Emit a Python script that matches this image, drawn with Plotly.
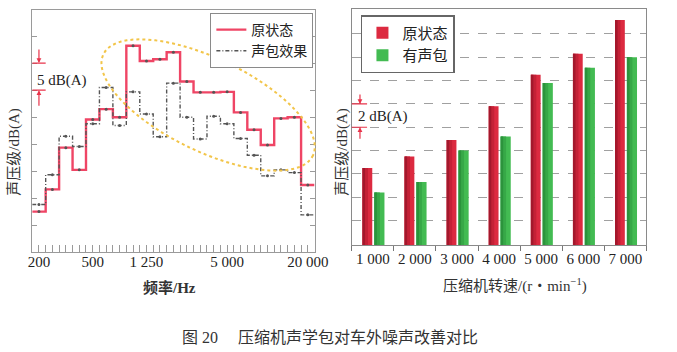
import math
import plotly.graph_objects as go

# ---------------- data ----------------
bands = ["200", "250", "315", "400", "500", "630", "800", "1 000", "1 250", "1 600",
         "2 000", "2 500", "3 150", "4 000", "5 000", "6 300", "8 000", "10 000",
         "12 500", "16 000", "20 000"]
orig_spl = [47.6, 51.7, 59.4, 55.3, 64.6, 66.5, 65.0, 78.2, 75.4, 75.7, 77.0,
            71.6, 69.6, 69.6, 69.7, 65.9, 62.7, 59.9, 64.8, 65.0, 52.5]
pkg_spl = [48.9, 54.4, 61.5, 59.6, 63.8, 70.5, 63.5, 69.7, 65.6, 61.4, 71.3,
           65.0, 61.0, 65.2, 63.8, 61.1, 58.0, 54.2, 55.3, 54.8, 47.0]
freq_ticks = ["200", "500", "1 250", "5 000", "20 000"]

speeds = ["1 000", "2 000", "3 000", "4 000", "5 000", "6 000", "7 000"]
orig_speed = [66.5, 67.5, 68.9, 71.8, 74.5, 76.3, 79.2]
pkg_speed = [64.4, 65.3, 68.0, 69.2, 73.8, 75.1, 76.0]

W, H = 677, 352
SERIF = "Liberation Serif, Times New Roman, Noto Sans CJK SC, serif"
RED_LINE = "#ef4565"
FRAME = "#9a9a9a"

def px(x):
    return x / W

def py(y):
    return 1 - y / H

n = len(bands)
idx = list(range(n))
edges = [i - 0.5 for i in idx] + [n - 0.5]

fig = go.Figure()

# ---------------- left: spectrum steps ----------------
fig.add_trace(go.Scatter(
    x=edges, y=orig_spl + [orig_spl[-1]], mode="lines", line_shape="hv",
    line=dict(color=RED_LINE, width=2.4), name="原状态",
    xaxis="x", yaxis="y", legend="legend"))
fig.add_trace(go.Scatter(
    x=edges, y=pkg_spl + [pkg_spl[-1]], mode="lines", line_shape="hv",
    line=dict(color="#555555", width=1.4, dash="4px,2px,1px,2px"), name="声包效果",
    xaxis="x", yaxis="y", legend="legend"))
for vals in (orig_spl, pkg_spl):
    fig.add_trace(go.Scatter(
        x=idx, y=vals, mode="markers", marker=dict(size=3, color="#555555"),
        showlegend=False, hoverinfo="skip", xaxis="x", yaxis="y"))

# ---------------- right: bars with stepped shading ----------------
# (offset, width, colour) strips: base bar first, darker left strips on top
red_strips = [(-0.246, 0.232, "#dc2a40"), (-0.246, 0.13, "#c42136"), (-0.246, 0.06, "#a3182c")]
green_strips = [(0.036, 0.240, "#43bb52"), (0.036, 0.13, "#37a847"), (0.036, 0.06, "#2c933c")]
for k, (off, wd, col) in enumerate(red_strips):
    fig.add_trace(go.Bar(x=speeds, y=orig_speed, name="原状态", offset=off, width=wd,
                         marker=dict(color=col, line_width=0), showlegend=(k == 0),
                         xaxis="x2", yaxis="y2", legend="legend2"))
for k, (off, wd, col) in enumerate(green_strips):
    fig.add_trace(go.Bar(x=speeds, y=pkg_speed, name="有声包", offset=off, width=wd,
                         marker=dict(color=col, line_width=0), showlegend=(k == 0),
                         xaxis="x2", yaxis="y2", legend="legend2"))

# ticks for left x axis: every half band, labels only on selected bands
half_ticks = [k * 0.5 for k in range(-1, 2 * n)]
half_text = []
for t in half_ticks:
    if float(t).is_integer() and 0 <= int(t) < n and bands[int(t)] in freq_ticks:
        half_text.append(bands[int(t)])
    else:
        half_text.append("")

shapes = []
annotations = []

# highlight ellipse (pixel geometry -> paper)
cx, cy, ea, eb, th = 209.7, 105.0, 119.0, 46.6, math.radians(25)
pts = []
for k in range(73):
    t = 2 * math.pi * k / 72
    x = cx + ea * math.cos(t) * math.cos(th) - eb * math.sin(t) * math.sin(th)
    y = cy + ea * math.cos(t) * math.sin(th) + eb * math.sin(t) * math.cos(th)
    pts.append(f"{px(x):.5f},{py(y):.5f}")
shapes.append(dict(type="path", xref="paper", yref="paper",
                   path="M " + " L ".join(pts) + " Z",
                   line=dict(color="#f2c54a", width=2, dash="dot")))

RED_MARK = "#e8334a"
# 5 dB(A) scale marker (left)
for yv in (75, 70):
    shapes.append(dict(type="line", xref="x", yref="y", x0=-0.5, x1=0.5, y0=yv, y1=yv,
                       line=dict(color=RED_MARK, width=1.2)))
annotations.append(dict(x=0.0, y=75, xref="x", yref="y", text="", showarrow=True,
                        ax=0, ay=-15, arrowhead=2, arrowsize=0.8, arrowwidth=1.2,
                        arrowcolor=RED_MARK))
annotations.append(dict(x=0.0, y=70, xref="x", yref="y", text="", showarrow=True,
                        ax=0, ay=17, arrowhead=2, arrowsize=0.8, arrowwidth=1.2,
                        arrowcolor=RED_MARK))
annotations.append(dict(x=-0.28, y=71.7, xref="x", yref="y", text="5 dB(A)", showarrow=False,
                        xanchor="left", yanchor="middle",
                        font=dict(family=SERIF, size=15, color="#222222")))

# 2 dB(A) scale marker (right)
for yv in (72, 70):
    shapes.append(dict(type="line", xref="paper", yref="y2", x0=px(357.3), x1=px(373),
                       y0=yv, y1=yv, line=dict(color=RED_MARK, width=1.2)))
annotations.append(dict(x=px(365.7), y=72, xref="paper", yref="y2", text="", showarrow=True,
                        ax=0, ay=-11, arrowhead=2, arrowsize=0.8, arrowwidth=1.2,
                        arrowcolor=RED_MARK))
annotations.append(dict(x=px(365.7), y=70, xref="paper", yref="y2", text="", showarrow=True,
                        ax=0, ay=13, arrowhead=2, arrowsize=0.8, arrowwidth=1.2,
                        arrowcolor=RED_MARK))
annotations.append(dict(x=px(361.5), y=70.95, xref="paper", yref="y2", text="2 dB(A)",
                        showarrow=False, xanchor="left", yanchor="middle",
                        font=dict(family=SERIF, size=15, color="#222222")))

# axis titles and caption
def label(x, y, text, size=15, angle=0):
    annotations.append(dict(x=px(x), y=py(y), xref="paper", yref="paper", text=text,
                            textangle=angle, showarrow=False, xanchor="center",
                            yanchor="middle",
                            font=dict(family=SERIF, size=size, color="#333333")))

label(10, 152, "声压级/dB(A)", angle=-90)
label(347, 152, "声压级/dB(A)", angle=-90)
label(170, 287, "<b>频率/Hz</b>")
label(525, 285, "压缩机转速/(r・min<sup>−1</sup>)")
label(335, 337, "图 20　 压缩机声学包对车外噪声改善对比", size=16)

fig.update_layout(
    width=W, height=H, margin=dict(l=0, r=0, t=0, b=0),
    paper_bgcolor="white", plot_bgcolor="white",
    font=dict(family=SERIF, size=15, color="#222222"),
    barmode="overlay",
    xaxis=dict(domain=[px(29), px(319)], range=[-0.5, n - 0.5], tickmode="array",
               tickvals=half_ticks, ticktext=half_text, ticks="inside", ticklen=7,
               tickcolor=FRAME, showline=True, linecolor=FRAME, mirror=True,
               showgrid=False, zeroline=False, tickangle=0, ticklabelstandoff=-4,
               tickfont=dict(size=15, color="#222222")),
    yaxis=dict(domain=[py(251.7), py(10)], range=[40.2, 84.8], tickmode="array",
               tickvals=[45, 50, 55, 60, 65, 70, 75, 80], showticklabels=False,
               ticks="inside", ticklen=5, tickcolor=FRAME, showline=True, linecolor=FRAME,
               mirror="ticks", showgrid=False, zeroline=False),
    xaxis2=dict(domain=[px(357.3), px(660)], type="category", range=[-0.5, 6.5],
                tickson="boundaries", ticks="outside", ticklen=5, tickcolor="#777777",
                showline=True, linecolor="#8a8a8a", mirror=True, showgrid=False,
                tickangle=0, tickfont=dict(size=15, color="#222222"), anchor="y2"),
    yaxis2=dict(domain=[py(245), py(9.3)], range=[59.91, 80.11], tickmode="array",
                tickvals=[62, 64, 66, 68, 70, 72, 74, 76, 78], showticklabels=False,
                ticks="", showgrid=True, gridcolor="#a0a0a0", griddash="dash", gridwidth=1,
                showline=True, linecolor="#8a8a8a", mirror=True, zeroline=False,
                anchor="x2"),
    legend=dict(x=px(212), y=py(13), xanchor="left", yanchor="top",
                bgcolor="white", bordercolor="#8a8a8a", borderwidth=1,
                font=dict(family=SERIF, size=14, color="#222222"),
                itemwidth=30, tracegroupgap=0),
    legend2=dict(x=px(366.7), y=py(15), xanchor="left", yanchor="top",
                 bgcolor="white", bordercolor="#666666", borderwidth=1.5,
                 font=dict(family=SERIF, size=15, color="#222222"),
                 itemwidth=30, tracegroupgap=0),
    shapes=shapes, annotations=annotations, showlegend=True,
)

fig.write_html("out.html")
